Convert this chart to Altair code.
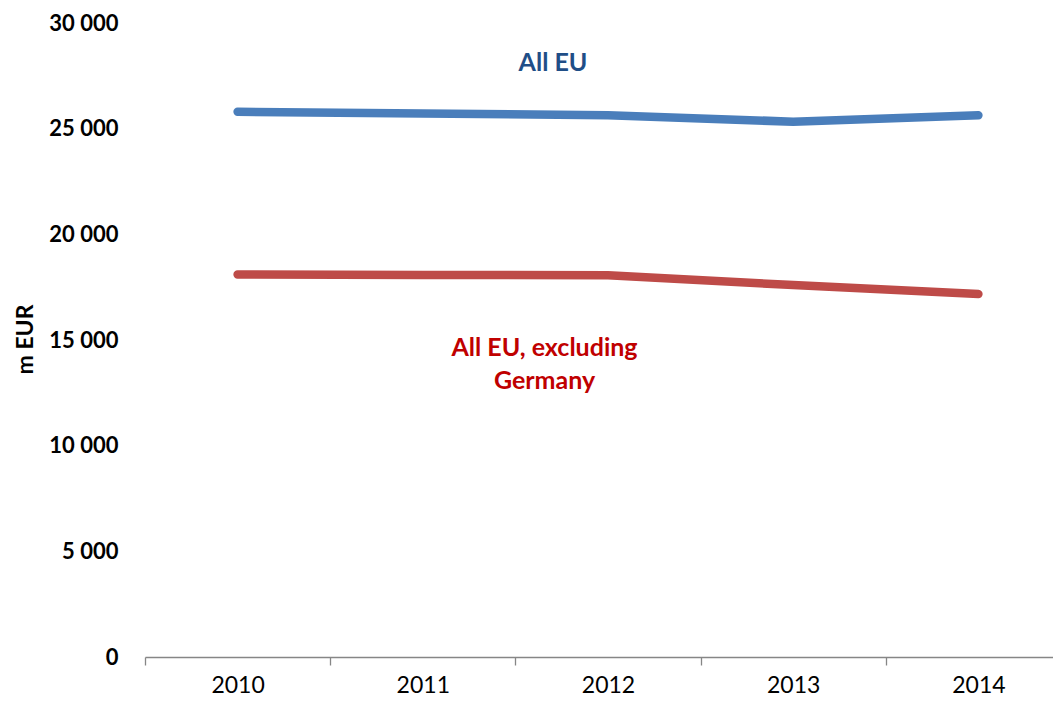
import altair as alt
import pandas as pd

years = ["2010", "2011", "2012", "2013", "2014"]
all_eu = [25800, 25720, 25630, 25330, 25635]
excl_de = [18100, 18080, 18060, 17600, 17175]
series_names = ["All EU", "All EU, excluding Germany"]
series_colors = ["#4a7ebb", "#be4b48"]

y_ticks = [0, 5000, 10000, 15000, 20000, 25000, 30000]

label_texts = ["All EU", "All EU, excluding", "Germany"]
label_years = ["2012", "2012", "2012"]
label_values = [28100, 14620, 13070]
label_colors = ["#1f4e87", "#c00000", "#c00000"]
label_dx = [-55, -63.5, -63.5]

df = pd.DataFrame({
    "year": years + years,
    "value": all_eu + excl_de,
    "series": [series_names[0]] * len(years) + [series_names[1]] * len(years),
})

FONT = "Lato"

x_enc = alt.X(
    "year:N",
    bandPosition=0.5,
    scale=alt.Scale(type="band", domain=years, range=[0, 926], paddingInner=0, paddingOuter=0),
    axis=alt.Axis(
        title=None, tickBand="extent", domainColor="#868686", tickColor="#868686",
        domainWidth=1.3, tickWidth=1.3, tickSize=8, labelFont=FONT, labelFontSize=23,
        labelColor="black", labelPadding=9, labelAngle=0, grid=False,
    ),
)

y_enc = alt.Y(
    "value:Q",
    scale=alt.Scale(domain=[0, 30000], nice=False, zero=True),
    axis=alt.Axis(
        values=y_ticks, title="m EUR",
        labelExpr="replace(format(datum.value, ','), ',', ' ')",
        domain=False, ticks=False, tickSize=0, grid=False,
        labelFont=FONT, labelFontWeight="bold", labelFontSize=22, labelPadding=27,
        labelColor="black",
        titleFont=FONT, titleFontSize=23, titleFontWeight="bold", titleColor="black",
        titleX=-113, titleY=316, titleAngle=270, titleBaseline="alphabetic", titleAlign="center",
    ),
)

lines = alt.Chart(df).mark_line(strokeWidth=8.5, strokeCap="round", strokeJoin="round").encode(
    x=x_enc,
    y=y_enc,
    color=alt.Color("series:N", scale=alt.Scale(domain=series_names, range=series_colors), legend=None),
    detail="series:N",
)

layers = [lines]
for i in range(len(label_texts)):
    d = pd.DataFrame({"year": [label_years[i]], "value": [label_values[i]], "label": [label_texts[i]]})
    layers.append(
        alt.Chart(d).mark_text(
            dx=label_dx[i], font=FONT, fontWeight="bold", fontSize=25,
            color=label_colors[i], align="center", baseline="middle",
        ).encode(x=x_enc, y=y_enc, text="label:N")
    )

chart = alt.layer(*layers).properties(
    width=908, height=634,
    padding={"left": 137, "top": 15, "right": 0, "bottom": 40},
    autosize=alt.AutoSizeParams(type="none"),
    background="white",
).configure_view(stroke=None)

chart.save("out.html", embed_options={"renderer": "svg", "actions": False})
